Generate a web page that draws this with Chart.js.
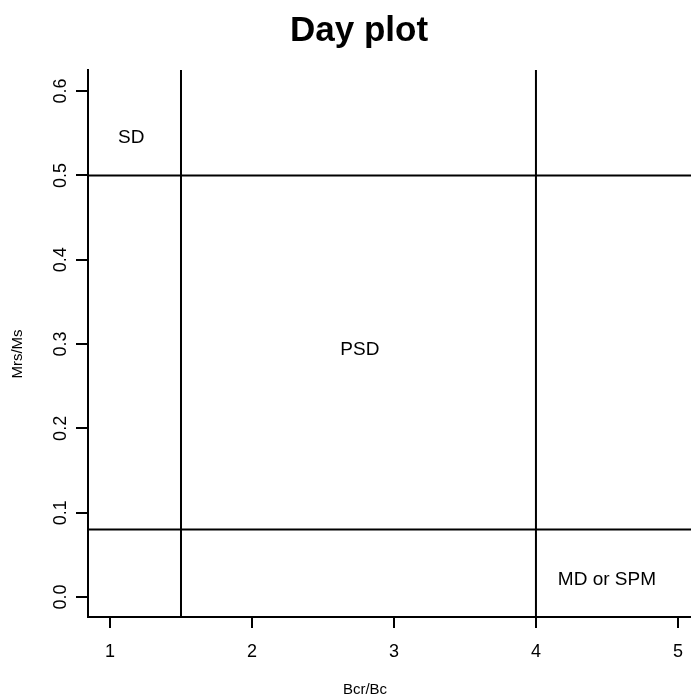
<!DOCTYPE html>
<html>
<head>
<meta charset="utf-8">
<title>Day plot</title>
<script src="https://cdn.jsdelivr.net/npm/chart.js@4.4.1/dist/chart.umd.min.js"></script>
<style>
  html, body { margin: 0; padding: 0; background: #fff; }
  #wrap { width: 691px; height: 699px; position: relative; }
</style>
</head>
<body>
<div id="wrap"><canvas id="day"></canvas></div>
<script>
// Domain boundaries of the Day plot
const bcrBcBounds = [1.5, 4];        // vertical boundaries (Bcr/Bc)
const mrsMsBounds = [0.08, 0.5];     // horizontal boundaries (Mrs/Ms)

// Axis ranges and tick values
const xRange = [0.845, 5.092];
const yRange = [-0.0237, 0.625];
const xTicks = [1, 2, 3, 4, 5];
const yTicks = [0.0, 0.1, 0.2, 0.3, 0.4, 0.5, 0.6];

// Domain names and where they sit
const domainNames = ['SD', 'PSD', 'MD or SPM'];
const domainX = [1.15, 2.76, 4.5];
const domainY = [0.545, 0.293, 0.021];

const FONT = '"Liberation Sans", Arial, Helvetica, sans-serif';

const datasets = [];
bcrBcBounds.forEach(v => datasets.push({
  data: [{x: v, y: yRange[0]}, {x: v, y: yRange[1]}]
}));
mrsMsBounds.forEach(v => datasets.push({
  data: [{x: xRange[0], y: v}, {x: xRange[1], y: v}]
}));
datasets.forEach(d => Object.assign(d, {
  showLine: true, borderColor: '#000', borderWidth: 2,
  pointRadius: 0, fill: false, tension: 0
}));

const textPlugin = {
  id: 'dayText',
  afterDraw(chart) {
    const ctx = chart.ctx;
    const xs = chart.scales.x, ys = chart.scales.y;
    ctx.save();
    ctx.fillStyle = '#000';
    ctx.textAlign = 'center';
    ctx.textBaseline = 'middle';

    ctx.font = 'bold 35px ' + FONT;
    ctx.fillText('Day plot', 359, 31);

    ctx.font = '19px ' + FONT;
    domainNames.forEach((t, i) => {
      ctx.fillText(t, xs.getPixelForValue(domainX[i]), ys.getPixelForValue(domainY[i]));
    });

    ctx.font = '15px ' + FONT;
    ctx.fillText('Bcr/Bc', 365, 690);
    ctx.translate(18, 354);
    ctx.rotate(-Math.PI / 2);
    ctx.fillText('Mrs/Ms', 0, 0);
    ctx.restore();
  }
};

new Chart(document.getElementById('day'), {
  type: 'scatter',
  data: { datasets },
  options: {
    responsive: true,
    maintainAspectRatio: false,
    animation: false,
    events: [],
    layout: { padding: { top: 70, left: 0, right: 0, bottom: 0 } },
    plugins: { legend: { display: false }, title: { display: false }, tooltip: { enabled: false } },
    scales: {
      x: {
        type: 'linear', min: xRange[0], max: xRange[1],
        afterFit: s => { s.height = 82; s.paddingLeft = 0; s.paddingRight = 0; },
        afterBuildTicks: s => { s.ticks = xTicks.map(v => ({ value: v })); },
        border: { display: true, color: '#000', width: 2 },
        grid: { drawOnChartArea: false, drawTicks: true, tickLength: 11, color: '#000', lineWidth: 2 },
        ticks: { color: '#000', font: { family: FONT, size: 18 }, padding: 13, maxRotation: 0,
                 callback: v => String(v) }
      },
      y: {
        type: 'linear', min: yRange[0], max: yRange[1],
        afterFit: s => { s.width = 88; s.paddingTop = 0; s.paddingBottom = 0; },
        afterBuildTicks: s => { s.ticks = yTicks.map(v => ({ value: v })); },
        border: { display: true, color: '#000', width: 2 },
        grid: { drawOnChartArea: false, drawTicks: true, tickLength: 12, color: '#000', lineWidth: 2 },
        ticks: { color: '#000', font: { family: FONT, size: 18 }, padding: 2,
                 minRotation: 90, maxRotation: 90, crossAlign: 'center',
                 callback: v => Number(v).toFixed(1) }
      }
    }
  },
  plugins: [textPlugin]
});
</script>
</body>
</html>
